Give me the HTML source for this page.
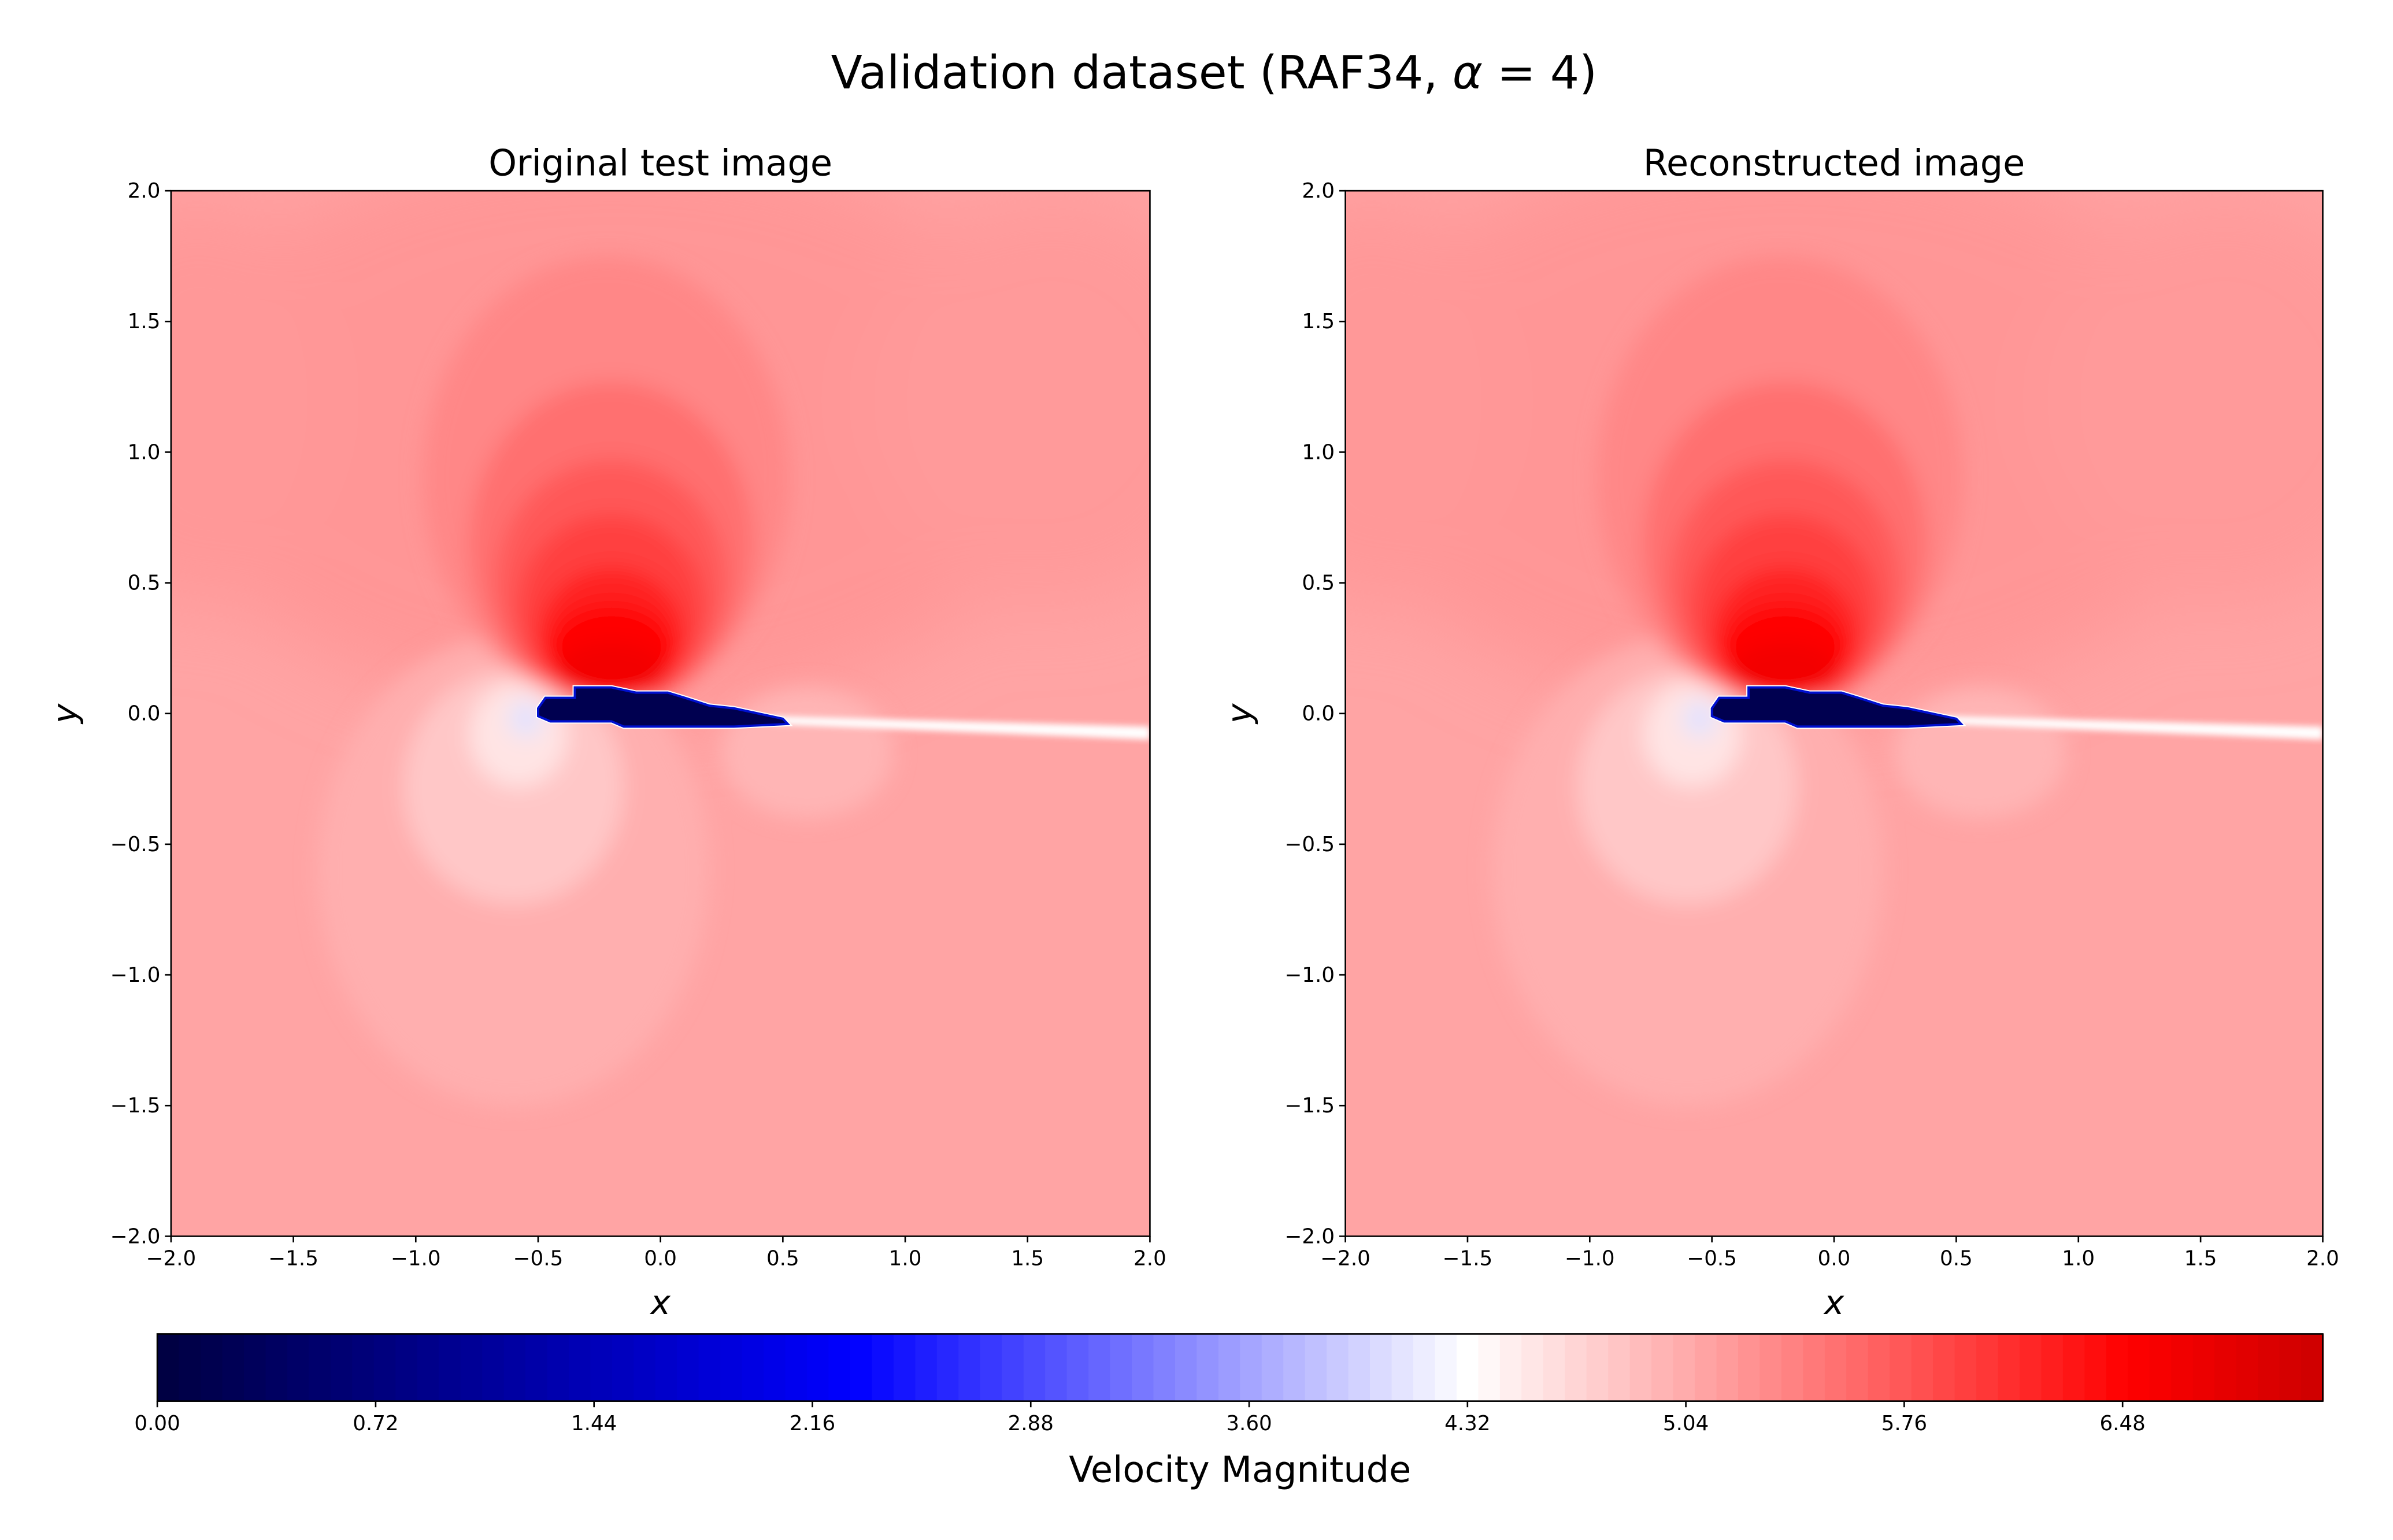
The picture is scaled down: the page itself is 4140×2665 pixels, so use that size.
<!DOCTYPE html>
<html><head><meta charset="utf-8"><style>
html,body{margin:0;padding:0;background:#fff;}
svg{display:block;font-family:"DejaVu Sans","Liberation Sans",sans-serif;}
</style></head><body>
<svg id="fig" width="4140" height="2665" viewBox="0 0 1567 1009" preserveAspectRatio="none" xmlns="http://www.w3.org/2000/svg">
<defs>
<filter id="blur1" x="-20%" y="-20%" width="140%" height="140%"><feGaussianBlur stdDeviation="7"/></filter>
<filter id="blur2" x="-20%" y="-20%" width="140%" height="140%"><feGaussianBlur stdDeviation="2"/></filter>
<filter id="blur3" x="-50%" y="-50%" width="200%" height="200%"><feGaussianBlur stdDeviation="25"/></filter>
<clipPath id="clipL"><rect x="112" y="125" width="641" height="685"/></clipPath>
<clipPath id="clipR"><rect x="881" y="125" width="640" height="685"/></clipPath>
</defs>
<text x="795" y="58" text-anchor="middle" font-size="30">Validation dataset (RAF34, <tspan font-style="italic">α</tspan> = 4)</text>
<g id="panels"></g>
<g id="cbar"></g>
</svg>
<script>
const xTicks=[-2.0,-1.5,-1.0,-0.5,0.0,0.5,1.0,1.5,2.0];
const yTicks=[-2.0,-1.5,-1.0,-0.5,0.0,0.5,1.0,1.5,2.0];
const cbTicks=[0.00,0.72,1.44,2.16,2.88,3.60,4.32,5.04,5.76,6.48];
const vmax=7.14;
const backgroundVal=5.1;
const upperCx=[-0.2,1.6,-1.9];
const upperCy=[1.1,1.2,1.2];
const upperRx=[1.9,0.8,0.6];
const upperRy=[1.1,0.8,0.8];
const upperVal=[5.22,5.18,5.2];
const contourCx=[-0.6,-0.6,0.6,-0.22,-0.2,-0.2,-0.2,-0.2,-0.2,-0.2,-0.58,-0.55];
const contourCy=[-0.6,-0.28,-0.15,0.9,0.65,0.5,0.4,0.3,0.24,0.17,-0.08,-0.02];
const contourRx=[0.8,0.45,0.35,0.75,0.58,0.47,0.38,0.3,0.26,0.22,0.2,0.07];
const contourRy=[0.9,0.45,0.25,0.85,0.62,0.47,0.36,0.26,0.18,0.1,0.2,0.07];
const contourVal=[5.0,4.8,4.95,5.35,5.55,5.75,5.95,6.2,6.45,6.65,4.55,4.1];
const airfoilX=[-0.5,-0.47,-0.35,-0.35,-0.2,-0.1,0.03,0.1,0.2,0.3,0.5,0.52,0.3,-0.15,-0.2,-0.45,-0.5];
const airfoilY=[0.02,0.06,0.06,0.1,0.1,0.08,0.08,0.06,0.03,0.02,-0.02,-0.04,-0.05,-0.05,-0.03,-0.03,-0.01];

const cmapV=[0,2.3,4.32,6.5,7.14];
const cmapC=[[0,0,64],[0,0,255],[255,255,255],[255,0,0],[205,0,0]];
function cmap(v){
  v=Math.max(0,Math.min(vmax,v));
  for(let i=0;i<cmapV.length-1;i++){
    if(v<=cmapV[i+1]){const t=(v-cmapV[i])/(cmapV[i+1]-cmapV[i]);
      const c=cmapC[i].map((a,k)=>Math.round(a+(cmapC[i+1][k]-a)*t));
      return `rgb(${c[0]},${c[1]},${c[2]})`;}
  }
  return 'rgb(205,0,0)';
}
const NS='http://www.w3.org/2000/svg';
function mk(tag,attrs,parent){const e=document.createElementNS(NS,tag);for(const k in attrs)e.setAttribute(k,attrs[k]);parent.appendChild(e);return e;}

const panels=document.getElementById('panels');
const defs=[{x0:112,w:641,title:'Original test image',clip:'clipL',name:'original'},{x0:881,w:640,title:'Reconstructed image',clip:'clipR',name:'reconstructed'}];
defs.forEach(p=>{
  const y0=125,h=685;
  const sx=v=>p.x0+(v+2)/4*p.w, sy=v=>y0+h-(v+2)/4*h;
  const g=mk('g',{},panels);
  
  
  const field=mk('g',{'clip-path':`url(#${p.clip})`},g);
  
  
  mk('rect',{x:p.x0,y:y0,width:p.w,height:h,fill:cmap(backgroundVal)},field);
  const ug=mk('g',{filter:'url(#blur3)'},field);
  for(let i=0;i<upperVal.length;i++){
    const e=mk('ellipse',{cx:sx(upperCx[i]),cy:sy(upperCy[i]),rx:upperRx[i]/4*p.w,ry:upperRy[i]/4*h,fill:cmap(upperVal[i])},ug);
    
    
  }
  const cg=mk('g',{filter:'url(#blur1)'},field);
  for(let i=0;i<contourVal.length;i++){
    const e=mk('ellipse',{cx:sx(contourCx[i]),cy:sy(contourCy[i]),rx:contourRx[i]/4*p.w,ry:contourRy[i]/4*h,fill:cmap(contourVal[i])},cg);
    
    
  }
  const wk=mk('polygon',{points:`${sx(0.45)},${sy(-0.01)} ${sx(2)},${sy(-0.05)} ${sx(2)},${sy(-0.1)} ${sx(0.45)},${sy(-0.04)}`,fill:'#ffffff',filter:'url(#blur2)'},field);
  
  
  const pts=airfoilX.map((x,i)=>`${sx(x)},${sy(airfoilY[i])}`).join(' ');
  mk('polygon',{points:pts,fill:'none',stroke:'#ffffff',"stroke-width":3},field);
  const af=mk('polygon',{points:pts,fill:'#000050',stroke:'#0010d0','stroke-width':1.5},field);
  
  
  const fr=mk('rect',{x:p.x0,y:y0,width:p.w,height:h,fill:'none',stroke:'#000','stroke-width':1},g);
  
  
  const t=mk('text',{x:p.x0+p.w/2,y:115,'text-anchor':'middle','font-size':23.5},g);t.textContent=p.title;
  
  
  xTicks.forEach(v=>{
    mk('line',{x1:sx(v),x2:sx(v),y1:y0+h,y2:y0+h+4,stroke:'#000'},g);
    const tt=mk('text',{x:sx(v),y:y0+h+19,'text-anchor':'middle','font-size':13.5},g);
    tt.textContent=(v<0?'\u2212':'')+Math.abs(v).toFixed(1);
    
    
  });
  yTicks.forEach(v=>{
    mk('line',{x1:p.x0-4,x2:p.x0,y1:sy(v),y2:sy(v),stroke:'#000'},g);
    const tt=mk('text',{x:p.x0-7,y:sy(v)+4.5,'text-anchor':'end','font-size':13.5},g);
    tt.textContent=(v<0?'\u2212':'')+Math.abs(v).toFixed(1);
    
    
  });
  const xl=mk('text',{x:p.x0+p.w/2,y:861,'text-anchor':'middle','font-size':22,'font-style':'italic'},g);xl.textContent='x';
  
  
  const yl=mk('text',{x:0,y:0,'text-anchor':'middle','font-size':22,'font-style':'italic',transform:`translate(${p.x0-62},${sy(0)}) rotate(-90)`},g);yl.textContent='y';
  
  
});

const cb=document.getElementById('cbar');


const cbx0=103,cbx1=1521,cby=874,cbh=44;
const cx=v=>cbx0+v/vmax*(cbx1-cbx0);
const nLev=100;
for(let i=0;i<nLev;i++){
  const v0=i/nLev*vmax,v1=(i+1)/nLev*vmax;
  mk('rect',{x:cx(v0),y:cby,width:cx(v1)-cx(v0)+0.6,height:cbh,fill:cmap((v0+v1)/2)},cb);
}
mk('rect',{x:cbx0,y:cby,width:cbx1-cbx0,height:cbh,fill:'none',stroke:'#000'},cb);
cbTicks.forEach(v=>{
  mk('line',{x1:cx(v),x2:cx(v),y1:cby+cbh,y2:cby+cbh+4,stroke:'#000'},cb);
  const t=mk('text',{x:cx(v),y:cby+cbh+19,'text-anchor':'middle','font-size':13.5},cb);t.textContent=v.toFixed(2);
  
  
});
const cl=mk('text',{x:812,y:971,'text-anchor':'middle','font-size':23.5},cb);cl.textContent='Velocity Magnitude';


</script>
</body></html>
